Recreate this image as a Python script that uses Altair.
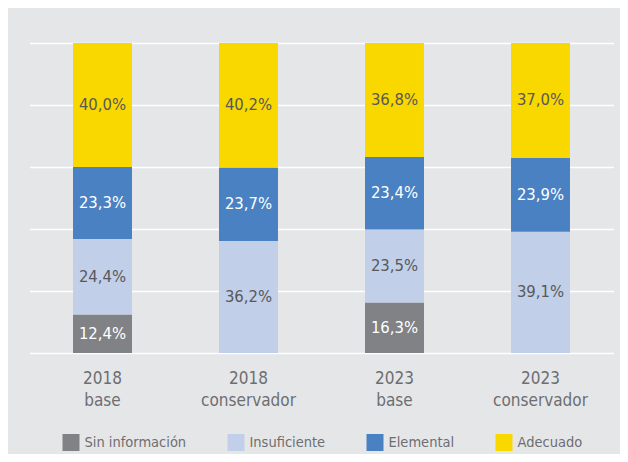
import altair as alt
import pandas as pd

categories = ["2018 base", "2018 conservador", "2023 base", "2023 conservador"]
levels = ["Sin información", "Insuficiente", "Elemental", "Adecuado"]
sin_info = [12.4, 0.0, 16.3, 0.0]
insuficiente = [24.4, 36.2, 23.5, 39.1]
elemental = [23.3, 23.7, 23.4, 23.9]
adecuado = [40.0, 40.2, 36.8, 37.0]
colors = ["#808285", "#c1cfe8", "#4a81c2", "#f9d800"]

FONT = "Liberation Sans Narrow, DejaVu Sans Condensed, Roboto, sans-serif"

series = [sin_info, insuficiente, elemental, adecuado]
rows = []
for i, cat in enumerate(categories):
    for j, lev in enumerate(levels):
        rows.append({"cat": cat, "level": lev, "order": j, "value": series[j][i]})
df = pd.DataFrame(rows)

base = alt.Chart(df).transform_stack(
    stack="value", as_=["y0", "y1"], groupby=["cat"],
    sort=[alt.SortField("order")], offset="normalize"
).transform_calculate(
    mid="(datum.y0 + datum.y1) / 2",
    label="replace(format(datum.value, '.1f'), '.', ',') + '%'"
)

xenc = alt.X("cat:N", sort=categories,
             scale=alt.Scale(paddingInner=0.596, paddingOuter=0.298),
             axis=alt.Axis(title=None, labelAngle=0, domain=False, ticks=False,
                           labelExpr="split(datum.label, ' ')",
                           labelFontSize=17, labelColor="#6d6e71", labelFont=FONT,
                           labelPadding=17, labelLineHeight=22, labelBaseline="top"))

bars = base.mark_bar().encode(
    x=xenc,
    y=alt.Y("y0:Q", scale=alt.Scale(domain=[0, 1]),
            axis=alt.Axis(title=None, labels=False, ticks=False, domain=False,
                          values=[0, 0.2, 0.4, 0.6, 0.8, 1.0],
                          grid=True, gridColor="#ffffff", gridWidth=1.5, gridOpacity=1)),
    y2="y1:Q",
    color=alt.Color("level:N", scale=alt.Scale(domain=levels, range=colors),
                    legend=alt.Legend(title=None, orient="none", direction="horizontal",
                                      legendX=33, legendY=391, symbolType="square",
                                      symbolSize=289, symbolStrokeWidth=0, symbolOpacity=1,
                                      labelFontSize=14.5, labelColor="#6d6e71", labelFont=FONT,
                                      labelOffset=5, columnPadding=41, padding=0)),
    order=alt.Order("order:Q"),
)

texts = base.transform_filter("datum.value > 0").mark_text(
    fontSize=16.5, font=FONT
).encode(
    x=alt.X("cat:N", sort=categories),
    y="mid:Q",
    text="label:N",
    color=alt.condition("datum.level == 'Sin información' || datum.level == 'Elemental'",
                        alt.value("#ffffff"), alt.value("#58595b")),
)

chart = alt.layer(bars, texts).properties(
    width=584, height=310,
    autosize=alt.AutoSizeParams(type="none"),
    padding={"left": 21.5, "top": 35, "right": 6.5, "bottom": 101},
).configure(background="#e5e6e8").configure_view(stroke=None)

chart.save("out.html", embed_options={"renderer": "svg", "actions": False})
